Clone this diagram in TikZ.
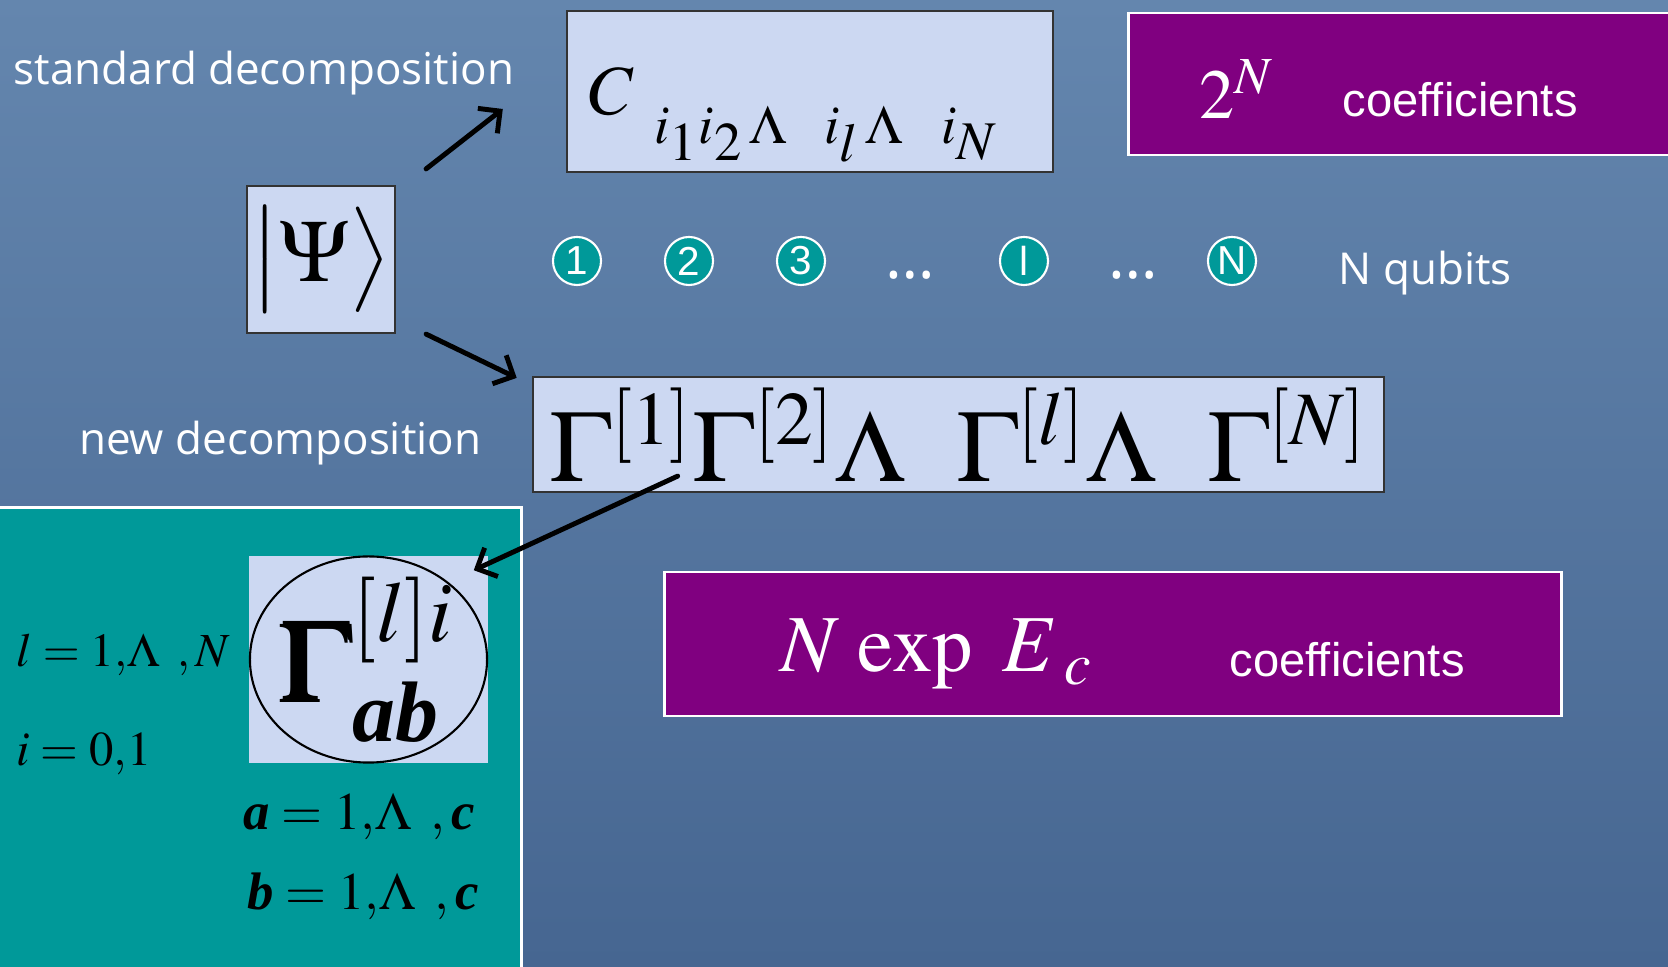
\documentclass[tikz,border=0pt]{standalone}
\usepackage{amsmath}
\usepackage{mathptmx}
\usepackage[no-math]{fontspec}
\setmainfont{Liberation Serif}
\newfontfamily\tahoma{Open Sans}
\newfontfamily\arial{Liberation Sans}
\usetikzlibrary{arrows.meta,positioning}

\definecolor{bgtop}{RGB}{100,134,174}
\definecolor{bgbot}{RGB}{70,102,145}
\definecolor{slidepurple}{RGB}{128,0,128}
\definecolor{slideteal}{RGB}{0,153,153}
\definecolor{paper}{RGB}{204,216,242}

\newcommand{\bvar}[1]{\text{\bfseries\itshape #1}}
\newcommand{\fsz}[1]{\fontsize{#1}{1.2\dimexpr #1pt\relax}\selectfont}

\begin{document}
\begin{tikzpicture}[
    x=0.01cm, y=-0.01cm,
    paperbox/.style={draw=black!80, line width=0.6pt, fill=paper, inner sep=0pt},
    purplebox/.style={draw=white, line width=0.8pt, fill=slidepurple},
    slidetext/.style={text=white, font=\tahoma\fsz{12.5}, inner sep=0pt},
    coeftext/.style={text=white, font=\arial\fsz{13.4}, inner sep=0pt},
    mathtext/.style={inner sep=0pt},
    qubit/.style={circle, draw=white, line width=0.6pt, fill=slideteal, text=white,
      minimum size=0.48cm, inner sep=0pt, font=\arial\fsz{11.5}},
    arrow/.style={-{Straight Barb[length=4.5pt,width=9pt]}, line width=1.4pt, line cap=round}
  ]
    % background
    \shade[top color=bgtop, bottom color=bgbot] (0,0) rectangle (1668,967);
    \useasboundingbox (0,0) rectangle (1668,967);

    % state and the two decompositions
    \node[paperbox, minimum width=1.48cm, minimum height=1.47cm, font=\fsz{25}] (psi) at (321,259.5)
      {$\bigl|\Psi\bigr\rangle$};
    \node[slidetext, anchor=base west] (stdtext) at (13,85) {standard decomposition};
    \node[paperbox, minimum width=4.86cm, minimum height=1.61cm] (cbox) at (810,91.5) {};
    \node[mathtext, anchor=base west, font=\fsz{20}] (cidx) at (588,115)
      {$C$\hspace{6pt}\raisebox{-8pt}{\fsz{15.5}$i_{\textstyle 1}i_{\textstyle 2}\,\Lambda\hspace{0.7em}i_{\textstyle l}\,\Lambda\hspace{0.7em}i_{\textstyle N}$}};
    \node[slidetext, anchor=base east] (newtext) at (482,455) {new decomposition};
    \node[paperbox, minimum width=8.51cm, minimum height=1.15cm, font=\fsz{29}] (gbox) at (958.5,434.5)
      {$\Gamma^{[1]}\Gamma^{[2]}\Lambda\ \ \Gamma^{[l]}\Lambda\ \ \Gamma^{[N]}$};

    % coefficient counts
    \node[purplebox, minimum width=5.52cm, minimum height=1.42cm] (twoN) at (1405,84) {};
    \node[mathtext, anchor=base west, text=white, font=\fsz{20}] (twoNval) at (1199,119) {$2^N$};
    \node[coeftext, anchor=base west] (coefA) at (1342,117) {coefficients};
    \node[purplebox, minimum width=8.96cm, minimum height=1.44cm] (nexp) at (1113,644) {};
    \node[mathtext, anchor=base west, text=white, font=\fsz{23}] (nexpval) at (780,672)
      {$N\,\exp\ E_{\;c}$};
    \node[coeftext, anchor=base west] (coefB) at (1229,677) {coefficients};

    % qubits
    \node[qubit] (q1) at (577,261) {1};
    \node[qubit] (q2) at (689,261) {2};
    \node[qubit] (q3) at (801,261) {3};
    \node[slidetext, anchor=base, font=\tahoma\fsz{18}] (dotsA) at (910,279) {\dots};
    \node[qubit] (ql) at (1024,261) {l};
    \node[slidetext, anchor=base, font=\tahoma\fsz{18}] (dotsB) at (1133,279) {\dots};
    \node[qubit] (qN) at (1232,261) {N};
    \node[slidetext, anchor=base west] (qubits) at (1338,285) {N qubits};

    % one tensor of the new decomposition
    \node[draw=white, line width=0.8pt, fill=slideteal, minimum width=5.31cm, minimum height=4.69cm] (panel) at (255.5,742.5) {};
    \node[fill=paper, inner sep=0pt, minimum width=2.39cm, minimum height=2.07cm, font=\fsz{33}] (gab) at (368.5,659.5)
      {$\pmb{\Gamma}^{[l]i}_{\bvar{ab}}$};
    \draw[line width=0.6pt] (gab.center) ellipse [x radius=1.185cm, y radius=1.03cm];
    \node[mathtext, anchor=base west, font=\fsz{13.5}] (lrange) at (16,667) {$l=1,\!\Lambda\ \,,N$};
    \node[mathtext, anchor=base west, font=\fsz{13.8}] (irange) at (16,766) {$i=0,\!1$};
    \node[mathtext, anchor=base west, font=\fsz{15}] (arange) at (243,830) {$\bvar{a}=1,\!\Lambda\ \,,\bvar{c}$};
    \node[mathtext, anchor=base west, font=\fsz{15}] (brange) at (247,910) {$\bvar{b}=1,\!\Lambda\ \,,\bvar{c}$};

    % arrows
    \coordinate (psiup) at ([shift={(30,-16)}]psi.north east);
    \coordinate (cin) at ([shift={(-63,17.5)}]cbox.west);
    \coordinate (psidown) at ([shift={(30,0)}]psi.south east);
    \coordinate (gin) at ([shift={(-15,2)}]gbox.north west);
    \coordinate (gout) at ([shift={(146,-17)}]gbox.south west);
    \coordinate (gabin) at ([shift={(-15,15)}]gab.north east);
    \draw[arrow] (psiup) -- (cin);
    \draw[arrow] (psidown) -- (gin);
    \draw[arrow] (gout) -- (gabin);
  \end{tikzpicture}
\end{document}
